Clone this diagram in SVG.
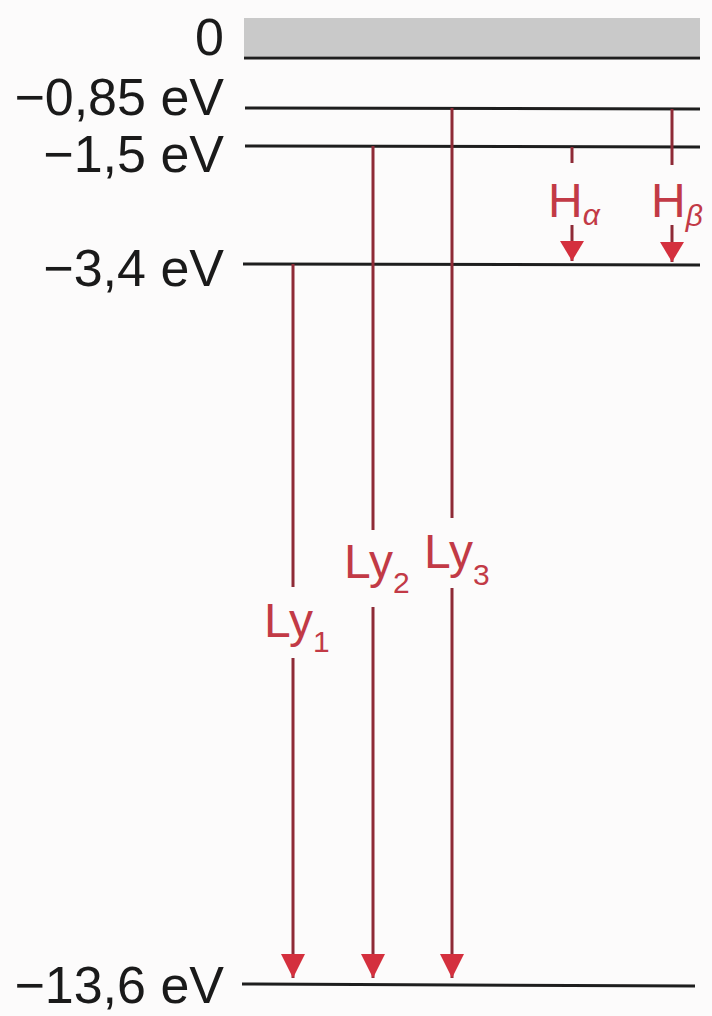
<svg xmlns="http://www.w3.org/2000/svg" width="712" height="1016" viewBox="0 0 712 1016">
  <style>
    .lvl { stroke: #1e1e1e; stroke-width: 3; fill: none; }
    .lbl { font-family: "Liberation Sans", Arial, sans-serif; font-size: 52px; fill: #1a1a1a; text-anchor: end; }
    .tr { stroke: #8e2a36; stroke-width: 3; fill: none; }
    .tl { font-family: "Liberation Sans", Arial, sans-serif; font-size: 48px; fill: #c23a46; }
    .sub { font-size: 30px; }
    .gr { font-style: italic; }
  </style>
  <defs>
    <marker id="ah" markerUnits="userSpaceOnUse" markerWidth="24" markerHeight="24" refX="24" refY="12" orient="auto">
      <path d="M0,0 L24,12 L0,24 z" fill="#d4303e"/>
    </marker>
    <marker id="ahs" markerUnits="userSpaceOnUse" markerWidth="20" markerHeight="24" refX="20" refY="12" orient="auto">
      <path d="M0,0 L20,12 L0,24 z" fill="#d4303e"/>
    </marker>
  </defs>
  <rect x="0" y="0" width="712" height="1016" fill="#fcfbfb"/>

  <g id="level-0">
    <rect x="244" y="18" width="456" height="38" fill="#c9c9c9"/>
    <line class="lvl" x1="244" y1="58" x2="700" y2="58"/>
    <text class="lbl" x="224" y="55">0</text>
  </g>
  <g id="level-085">
    <line class="lvl" x1="245" y1="108" x2="700" y2="109"/>
    <text class="lbl" x="224" y="115">−0,85 eV</text>
  </g>
  <g id="level-15">
    <line class="lvl" x1="245" y1="146" x2="700" y2="147"/>
    <text class="lbl" x="224" y="172">−1,5 eV</text>
  </g>
  <g id="level-34">
    <line class="lvl" x1="243" y1="264" x2="700" y2="265"/>
    <text class="lbl" x="224" y="286">−3,4 eV</text>
  </g>
  <g id="level-136">
    <line class="lvl" x1="242" y1="984" x2="695" y2="986"/>
    <text class="lbl" x="224" y="1003">−13,6 eV</text>
  </g>

  <g id="connectors">
    <line class="tr" x1="293" y1="264" x2="293" y2="587"/>
    <line class="tr" x1="293" y1="658" x2="293" y2="978" marker-end="url(#ah)"/>
    <line class="tr" x1="373" y1="146" x2="373" y2="530"/>
    <line class="tr" x1="373" y1="607" x2="373" y2="978" marker-end="url(#ah)"/>
    <line class="tr" x1="452" y1="108" x2="452" y2="518"/>
    <line class="tr" x1="452" y1="588" x2="452" y2="978" marker-end="url(#ah)"/>
    <line class="tr" x1="572" y1="147" x2="572" y2="163"/>
    <line class="tr" x1="572" y1="225" x2="572" y2="261" marker-end="url(#ahs)"/>
    <line class="tr" x1="672" y1="109" x2="672" y2="165"/>
    <line class="tr" x1="672" y1="225" x2="672" y2="262" marker-end="url(#ahs)"/>
  </g>

  <g id="label-ly1"><text class="tl" x="264" y="637">Ly<tspan class="sub" dy="15">1</tspan></text></g>
  <g id="label-ly2"><text class="tl" x="344" y="578">Ly<tspan class="sub" dy="15">2</tspan></text></g>
  <g id="label-ly3"><text class="tl" x="424" y="568">Ly<tspan class="sub" dy="17">3</tspan></text></g>
  <g id="label-ha"><text class="tl" x="548" y="217">H<tspan class="sub gr" dy="8">α</tspan></text></g>
  <g id="label-hb"><text class="tl" x="651" y="217">H<tspan class="sub gr" dy="9">β</tspan></text></g>
</svg>
